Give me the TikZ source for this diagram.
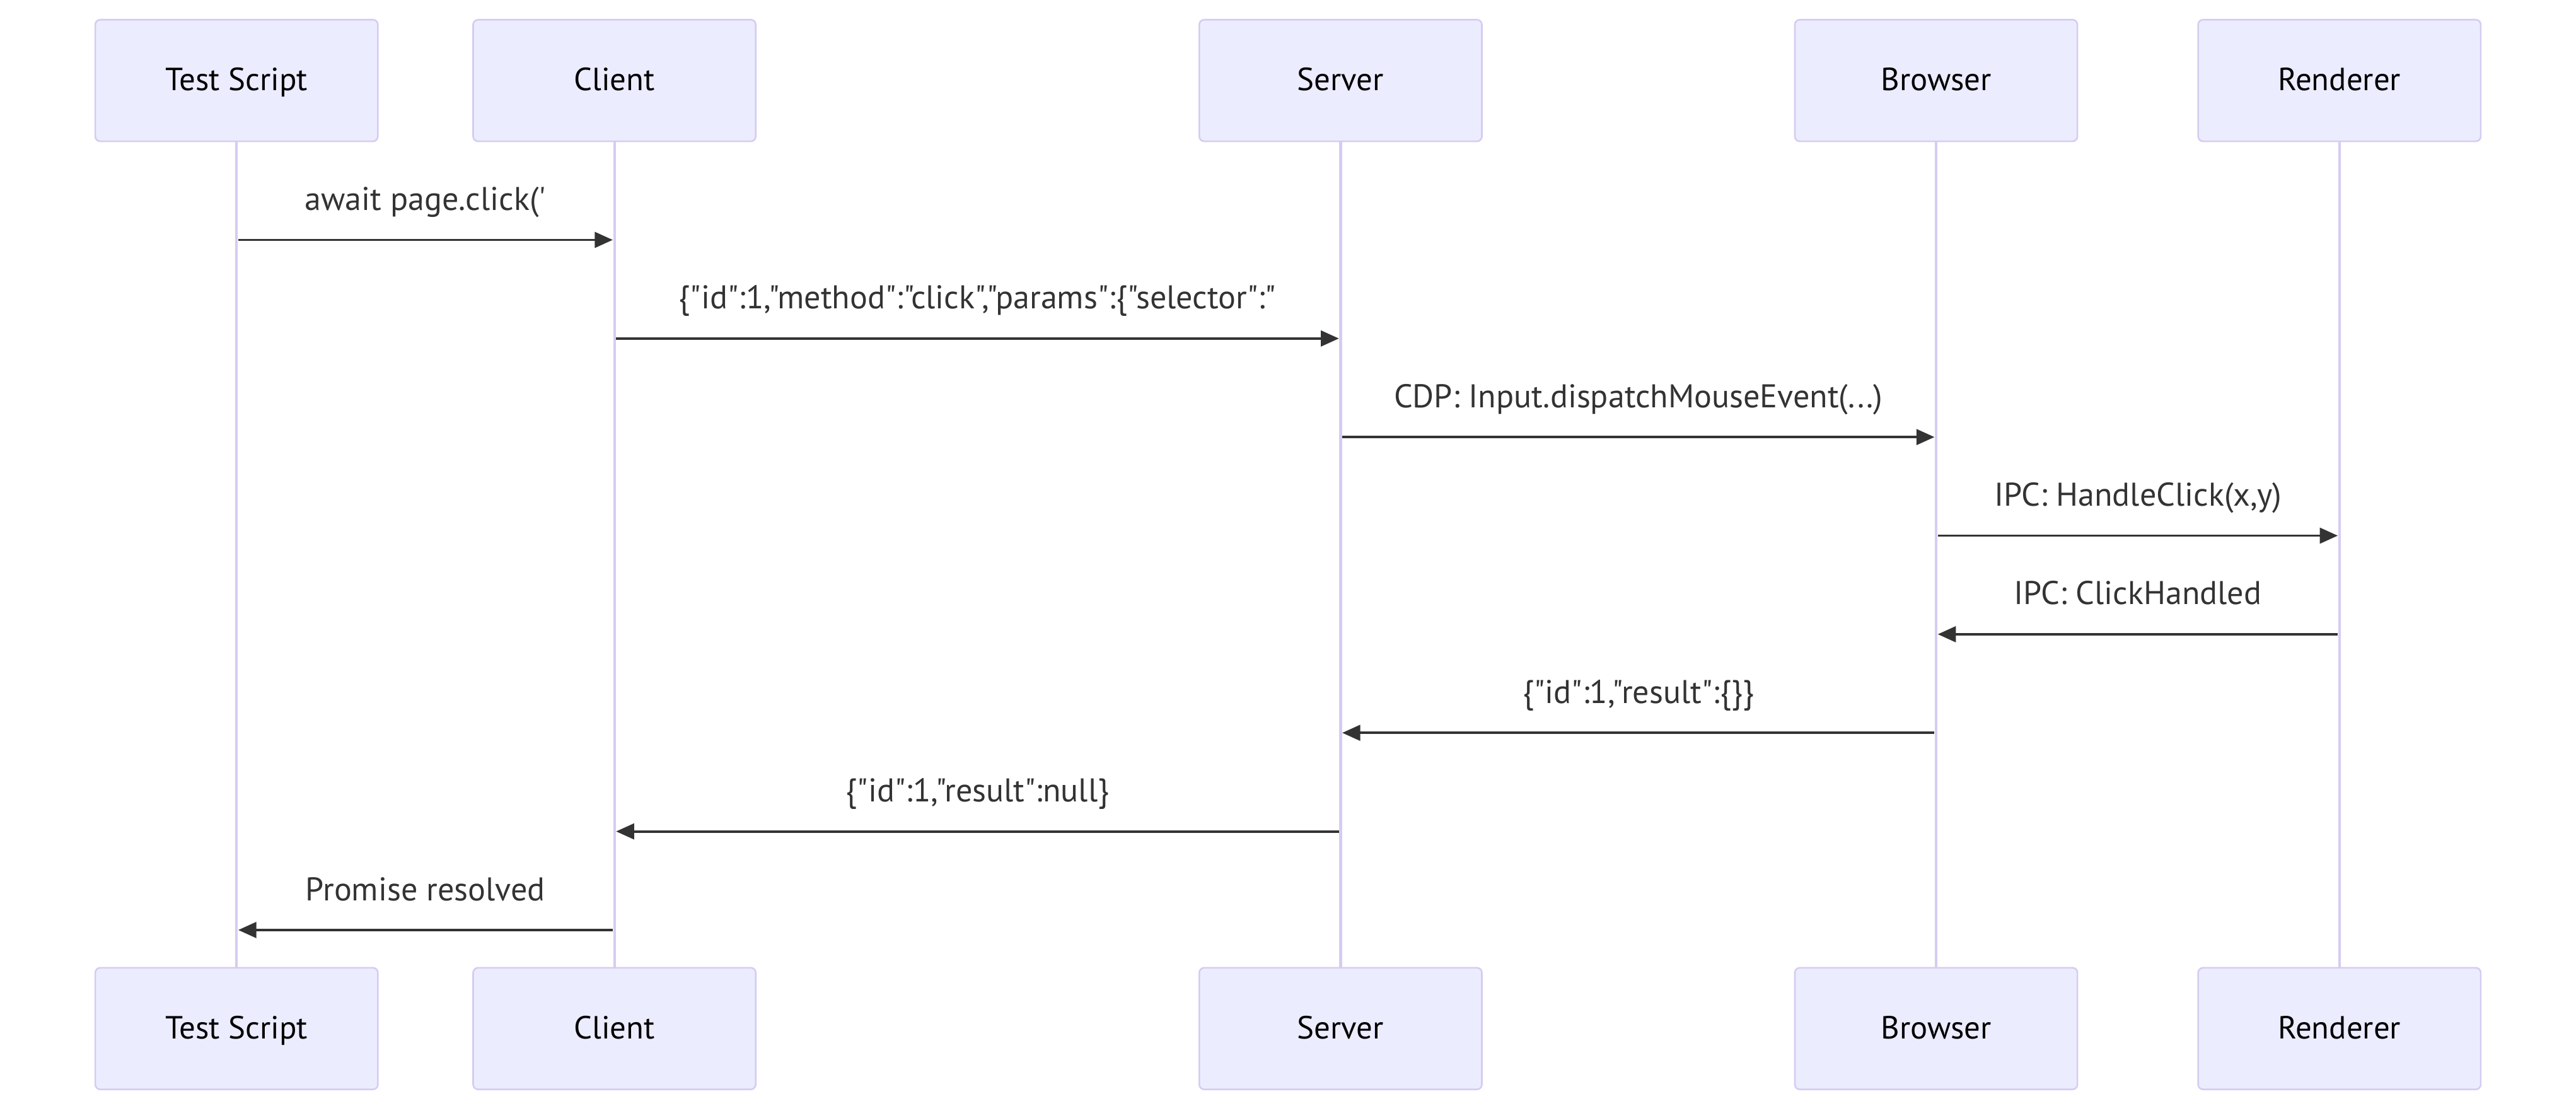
\documentclass[tikz,border=0pt]{standalone}
\usepackage{fontspec}
\setmainfont{PT Sans}[Ligatures=TeXOff]
\usetikzlibrary{arrows.meta}
\definecolor{actfill}{HTML}{ECECFF}
\definecolor{actline}{HTML}{D6CCF2}
\definecolor{msgcol}{HTML}{333333}
\begin{document}
\begin{tikzpicture}[x=1pt,y=-1pt,
  actor/.style={draw=actline,line width=1pt,fill=actfill,rounded corners=3pt,
    minimum width=172pt,minimum height=74pt,inner sep=0pt,
    text height=1.45em,text depth=0.2em,
    font=\fontsize{19.5}{22}\selectfont,text=black},
  lifeline/.style={draw=actline,line width=1.6pt},
  msg/.style={draw=msgcol,line width=1.5pt,-{Triangle[length=11pt,width=9.5pt]}},
  msglabel/.style={anchor=base,inner sep=0pt,text=msgcol,font=\fontsize{20}{23}\selectfont}]
\useasboundingbox (0,0) rectangle (1568,675.8);

% participants, top row
\node[actor] (ts) at (144,49) {Test Script};
\node[actor] (cl) at (374,49) {Client};
\node[actor] (sv) at (816,49) {Server};
\node[actor] (br) at (1178.5,49) {Browser};
\node[actor] (rd) at (1424,49) {Renderer};
% participants, bottom row
\node[actor] (tsb) at (144,626) {Test Script};
\node[actor] (clb) at (374,626) {Client};
\node[actor] (svb) at (816,626) {Server};
\node[actor] (brb) at (1178.5,626) {Browser};
\node[actor] (rdb) at (1424,626) {Renderer};

% lifelines
\foreach \a in {ts,cl,sv,br,rd}
  \draw[lifeline] (\a.south) -- (\a b.north);

% message rows
\foreach \i/\yy in {1/146,2/206,3/266,4/326,5/386,6/446,7/506,8/566}
  \coordinate (r\i) at (0,\yy);

% messages
\draw[msg] ([xshift=1pt]ts.center |- r1) -- ([xshift=-1pt]cl.center |- r1)
  node[msglabel,midway,yshift=18pt] {await page.click('};
\draw[msg] ([xshift=1pt]cl.center |- r2) -- ([xshift=-1pt]sv.center |- r2)
  node[msglabel,midway,yshift=18pt] {\{"id":1,"method":"click","params":\{"selector":"};
\draw[msg] ([xshift=1pt]sv.center |- r3) -- ([xshift=-1pt]br.center |- r3)
  node[msglabel,midway,yshift=18pt] {CDP: Input.dispatchMouseEvent(...)};
\draw[msg] ([xshift=1pt]br.center |- r4) -- ([xshift=-1pt]rd.center |- r4)
  node[msglabel,midway,yshift=18pt] {IPC: HandleClick(x,y)};
\draw[msg] ([xshift=-1pt]rd.center |- r5) -- ([xshift=1pt]br.center |- r5)
  node[msglabel,midway,yshift=18pt] {IPC: ClickHandled};
\draw[msg] ([xshift=-1pt]br.center |- r6) -- ([xshift=1pt]sv.center |- r6)
  node[msglabel,midway,yshift=18pt] {\{"id":1,"result":\{\}\}};
\draw[msg] ([xshift=-1pt]sv.center |- r7) -- ([xshift=1pt]cl.center |- r7)
  node[msglabel,midway,yshift=18pt] {\{"id":1,"result":null\}};
\draw[msg] ([xshift=-1pt]cl.center |- r8) -- ([xshift=1pt]ts.center |- r8)
  node[msglabel,midway,yshift=18pt] {Promise resolved};
\end{tikzpicture}
\end{document}
